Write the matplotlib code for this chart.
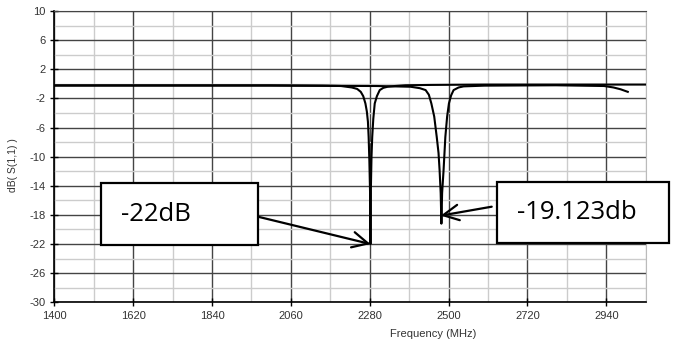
import matplotlib
matplotlib.use('Agg')
import matplotlib.pyplot as plt
from matplotlib.patches import Rectangle

plt.rcParams['axes.unicode_minus'] = False
plt.rcParams['font.family'] = ['Liberation Sans', 'DejaVu Sans']

# S11 of the first resonator (dip near 2282 MHz)
freq_a = [1400, 2000, 2150, 2200, 2230, 2245, 2255, 2262, 2268, 2272, 2275,
          2277, 2279, 2281, 2282, 2283, 2285, 2287, 2290, 2294, 2300, 2308,
          2318, 2330, 2350, 2380, 2450, 2600, 2800, 3050]
s11_a = [-0.2, -0.2, -0.25, -0.3, -0.5, -0.7, -1.1, -1.7, -2.7, -3.8, -5.2,
         -7.3, -10.5, -15.0, -22.0, -15.0, -10.0, -7.3, -4.8, -2.7, -1.7,
         -0.86, -0.55, -0.4, -0.3, -0.2, -0.15, -0.1, -0.1, -0.1]

# S11 of the second resonator (dip near 2480 MHz)
freq_b = [1400, 2000, 2300, 2394, 2420, 2436, 2445, 2452, 2460, 2467, 2472,
          2475, 2478, 2480, 2482, 2486, 2491, 2496, 2501, 2507, 2514, 2528,
          2542, 2600, 2800, 2934, 2960, 2980, 3000]
s11_b = [-0.25, -0.25, -0.3, -0.4, -0.6, -0.86, -1.5, -2.7, -4.5, -7.3, -9.5,
         -11.9, -15.0, -19.2, -15.0, -11.9, -7.3, -4.5, -2.7, -1.6, -0.86,
         -0.5, -0.35, -0.25, -0.2, -0.3, -0.5, -0.75, -1.1]

x_ticks = [1400, 1620, 1840, 2060, 2280, 2500, 2720, 2940]
x_minor = [1510, 1730, 1950, 2170, 2390, 2610, 2830, 3050]
y_ticks = [-30, -26, -22, -18, -14, -10, -6, -2, 2, 6, 10]
y_minor = [-28, -24, -20, -16, -12, -8, -4, 0, 4, 8]

# annotation: label, arrow tip (MHz, dB)
labels = ['-22dB', '-19.123db']
tips = [(2282, -22.0), (2478, -18.1)]

W, H = 677, 340
fig = plt.figure(figsize=(W / 100, H / 100), dpi=100)
ax = fig.add_axes([54.3 / W, 1 - 302.3 / H, 591.4 / W, 291.3 / H])

ax.plot(freq_a, s11_a, color='black', lw=1.5, zorder=3)
ax.plot(freq_b, s11_b, color='black', lw=1.5, zorder=3)

ax.set_xlim(1400, 3050)
ax.set_ylim(-30, 10)
ax.set_xticks(x_ticks)
ax.set_xticks(x_minor, minor=True)
ax.set_yticks(y_ticks)
ax.set_yticks(y_minor, minor=True)

ax.grid(which='major', color='#444444', lw=1.0)
ax.grid(which='minor', color='#cccccc', lw=1.0)
ax.set_axisbelow(True)

ax.tick_params(which='major', direction='inout', length=6, width=1,
               labelsize=8, labelcolor='#333333', pad=3)
ax.tick_params(which='minor', length=0)
for s in ['left', 'bottom']:
    ax.spines[s].set_color('black')
    ax.spines[s].set_linewidth(1.2)
ax.spines['top'].set_color('#444444')
ax.spines['right'].set_color('#bbbbbb')

ax.set_xlabel('Frequency (MHz)', fontsize=8, color='#333333')
ax.xaxis.set_label_coords((433 - 54.3) / 591.4, -0.09)
ax.set_ylabel('dB( S(1,1) )', fontsize=7.5, color='#333333')
ax.yaxis.set_label_coords(-0.062, 0.47)

# annotation boxes (pixel positions: left, top, right, bottom)
boxes = [(101, 183.3, 257.7, 245), (496.7, 181.7, 669, 242.7)]
starts = [(258, 216.7), (491.7, 206.7)]
for lab, (x0, y0, x1, y1), (sx, sy), tip in zip(labels, boxes, starts, tips):
    rect = Rectangle((x0 / W, 1 - y1 / H), (x1 - x0) / W, (y1 - y0) / H,
                     transform=fig.transFigure, facecolor='white',
                     edgecolor='black', lw=1.6, zorder=5)
    fig.add_artist(rect)
    fig.text((x0 + 20) / W, 1 - (y0 + y1) / 2 / H, lab,
             ha='left', va='center', fontsize=18.5, family='Open Sans',
             zorder=6)
    ax.annotate('', xy=tip, xycoords='data',
                xytext=(sx / W, 1 - sy / H), textcoords='figure fraction',
                arrowprops=dict(arrowstyle='->', lw=1.6, color='black',
                                mutation_scale=28, shrinkA=0, shrinkB=0),
                annotation_clip=False, zorder=6)

fig.savefig('out.png', dpi=100)
